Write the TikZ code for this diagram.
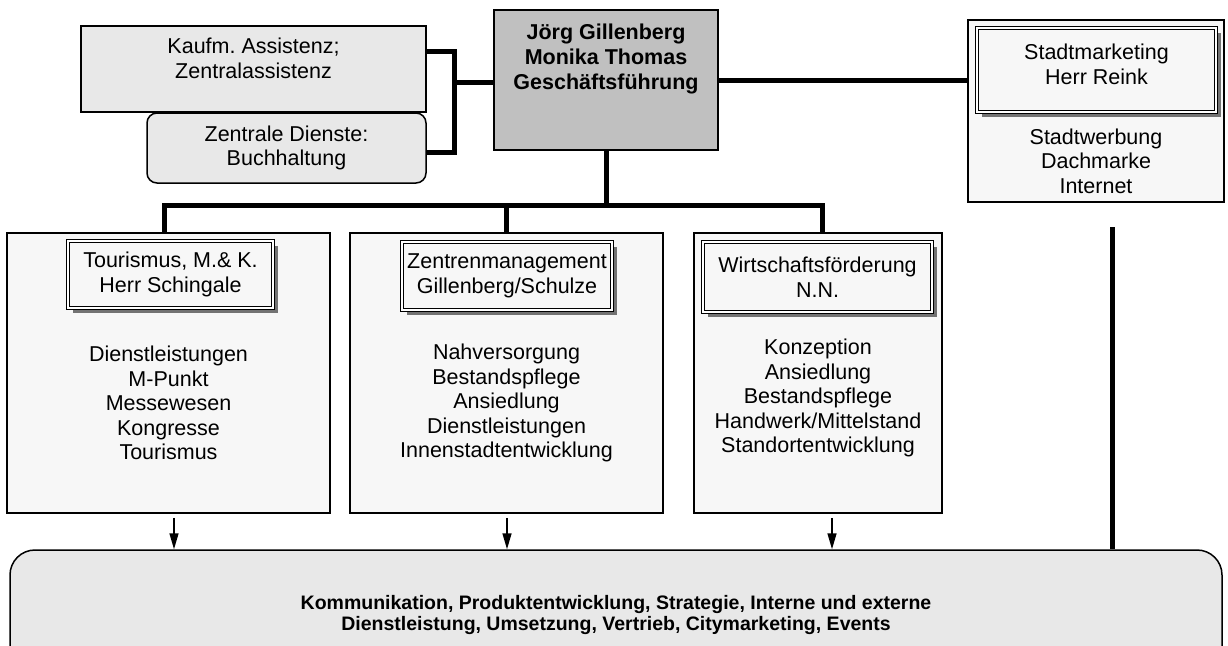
\documentclass[tikz,border=0pt]{standalone}
\usepackage{fontspec}
\setmainfont{Liberation Sans}
\usepackage{tikz}
\usetikzlibrary{shapes,arrows.meta,calc,shadows}
\definecolor{lightbox}{RGB}{232,232,232}
\definecolor{headcolor}{RGB}{192,192,192}
\definecolor{deptcolor}{RGB}{247,247,247}
\tikzstyle{block} = [draw, line width=1.5pt, rectangle, inner sep=0pt, align=center, font=\fontsize{21.5}{24.5}\selectfont]
\tikzstyle{headbox} = [draw, double, line width=1.5pt, double distance=1.5pt, fill=deptcolor, rectangle, inner sep=0pt, align=center, font=\fontsize{21.5}{24.5}\selectfont, drop shadow={shadow xshift=5pt, shadow yshift=-5pt, fill=black!55, opacity=1}]
\tikzstyle{txt} = [align=center, inner sep=0pt, font=\fontsize{21.5}{24.5}\selectfont]
\tikzstyle{line} = [line width=5pt]
\tikzstyle{arrow} = [-{Triangle[length=16pt,width=9pt]}, line width=1.5pt]

\begin{document}
\begin{tikzpicture}[x=1pt,y=-1pt]
\useasboundingbox (0,0) rectangle (1228,645);
\clip (0,0) rectangle (1228,645);

%% Geschaeftsfuehrung %%
\node [block, fill=headcolor, minimum width=224pt, minimum height=140pt] (Geschaeftsfuehrung) at (606,80) {};
\node [txt, font=\bfseries\fontsize{21.5}{25}\selectfont] (GFNames) at ($(Geschaeftsfuehrung)+(0,-21)$) {Jörg Gillenberg\\Monika Thomas\\Geschäftsführung};

%% Assistenz %%
\node [block, fill=lightbox, rounded corners=10pt, minimum width=279pt, minimum height=70pt] (ZentraleDienste) at (286.5,148) {Zentrale Dienste:\\Buchhaltung};
\node [block, fill=lightbox, minimum width=345pt, minimum height=86pt] (Assistenz) at (253.5,69) {};
\node [txt] (AssistenzText) at ($(Assistenz)+(0,-10.5)$) {Kaufm.\ Assistenz;\\Zentralassistenz};

%% Stadtmarketing %%
\node [block, fill=deptcolor, minimum width=256pt, minimum height=182pt] (Stadtmarketing) at (1096,111) {};
\node [headbox, minimum width=239pt, minimum height=84pt] (StadtmarketingHead) at (1096.5,70) {};
\node [txt] (StadtmarketingName) at ($(StadtmarketingHead)+(0,-5.5)$) {Stadtmarketing\\Herr Reink};
\node [txt] (StadtmarketingTasks) at ($(Stadtmarketing)+(0,50)$) {Stadtwerbung\\Dachmarke\\Internet};

%% Fachbereiche %%
\node [block, fill=deptcolor, minimum width=323pt, minimum height=280pt] (Tourismus) at (168.5,373) {};
\node [headbox, minimum width=205pt, minimum height=67pt] (TourismusHead) at (170.5,274.5) {Tourismus, M.\& K.\\Herr Schingale};
\node [txt] (TourismusTasks) at ($(Tourismus)+(0,30)$) {Dienstleistungen\\M-Punkt\\Messewesen\\Kongresse\\Tourismus};

\node [block, fill=deptcolor, minimum width=313pt, minimum height=280pt] (Zentren) at (506.5,373) {};
\node [headbox, minimum width=210pt, minimum height=68pt] (ZentrenHead) at (507,276) {Zentrenmanagement\\Gillenberg/Schulze};
\node [txt] (ZentrenTasks) at ($(Zentren)+(0,30)$) {Nahversorgung\\Bestandspflege\\Ansiedlung\\Dienstleistungen\\Innenstadtentwicklung};

\node [block, fill=deptcolor, minimum width=248pt, minimum height=280pt] (Wirtschaft) at (818,373) {};
\node [headbox, minimum width=229pt, minimum height=70pt] (WirtschaftHead) at (817.5,277) {Wirtschaftsförderung\\N.N.};
\node [txt] (WirtschaftTasks) at ($(Wirtschaft)+(0,25)$) {Konzeption\\Ansiedlung\\Bestandspflege\\Handwerk/Mittelstand\\Standortentwicklung};

%% Kommunikation %%
\node [block, fill=lightbox, rounded corners=25pt, minimum width=1212pt, minimum height=150pt] (Kommunikation) at (616,625) {};
\node [txt, font=\bfseries\fontsize{19.5}{20.5}\selectfont] (KommunikationText) at ($(Kommunikation)+(0,-10)$) {Kommunikation, Produktentwicklung, Strategie, Interne und externe\\Dienstleistung, Umsetzung, Vertrieb, Citymarketing, Events};

%% Verbindungen %%
\coordinate (Bus) at ($(Geschaeftsfuehrung.south)+(0,55)$);
\coordinate (AssistenzBus) at ($(Geschaeftsfuehrung.west)+(-39,2)$);
\coordinate (StadtLine) at (1112,227);
\coordinate (TourismusArrow) at ($(Tourismus.south)+(5.5,4)$);
\coordinate (ZentrenArrow) at ($(Zentren.south)+(0.5,4)$);
\coordinate (WirtschaftArrow) at ($(Wirtschaft.south)+(14,4)$);
\draw[line] ($(Assistenz.east)+(0,-18)$) -| ($(AssistenzBus)+(0,70)$) -- ($(ZentraleDienste.east)+(0,4)$);
\draw[line] (AssistenzBus) -- (AssistenzBus -| Geschaeftsfuehrung.west);
\draw[line] (Geschaeftsfuehrung.east) -- (Geschaeftsfuehrung.east -| Stadtmarketing.west);
\draw[line] (Geschaeftsfuehrung.south) -- (Bus);
\draw[line] ($(Tourismus.north)+(-4,0)$) |- (Bus) -| ($(Wirtschaft.north)+(4,0)$);
\draw[line] (Bus -| Zentren.north) -- (Zentren.north);
\draw[line] (StadtLine) -- (StadtLine |- Kommunikation.north);
\draw[arrow] (TourismusArrow) -- (TourismusArrow |- Kommunikation.north);
\draw[arrow] (ZentrenArrow) -- (ZentrenArrow |- Kommunikation.north);
\draw[arrow] (WirtschaftArrow) -- (WirtschaftArrow |- Kommunikation.north);
\end{tikzpicture}
\end{document}
